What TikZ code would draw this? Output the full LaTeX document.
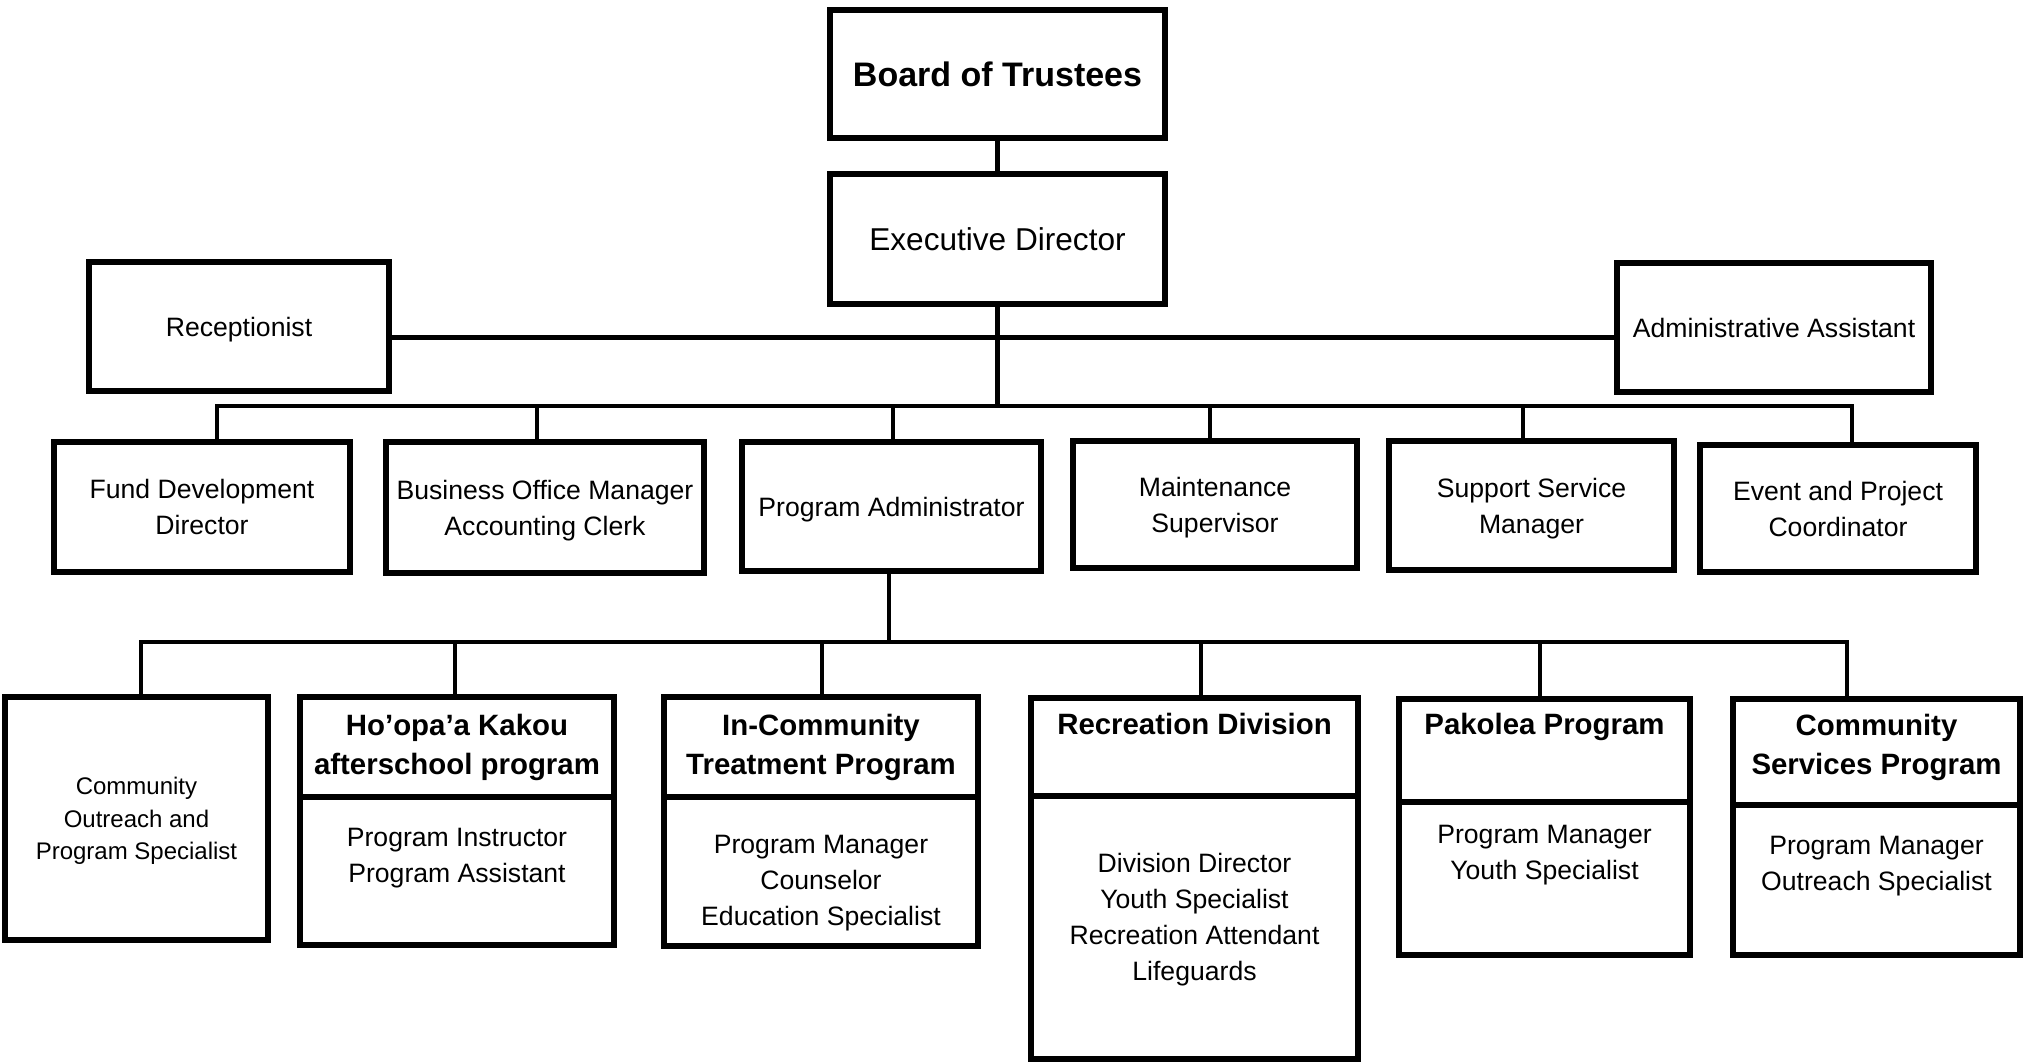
\documentclass[tikz,border=0pt]{standalone}
\usepackage{fontspec}
\setmainfont{Liberation Sans}
\newcommand\myfs[2]{\fontsize{#1}{#2}\selectfont}
\begin{document}
\begin{tikzpicture}[x=0.5pt,y=-0.5pt,
  box/.style={draw, line width=2.7pt, inner sep=0pt, outer sep=0pt, align=center, text depth=0pt},
  conn/.style={line width=2.4pt, line join=miter},
  reg/.style={font=\myfs{13.3}{18}},
  hdr/.style={font=\bfseries\myfs{14.7}{19.5}},
  txt/.style={inner sep=0pt, outer sep=0pt, align=center}]
\useasboundingbox (0,0) rectangle (2033,1063);

% top levels
\node[box, minimum width=167.5pt, minimum height=64pt, font=\bfseries\myfs{17}{20}] (board) at (997.5,74) {Board of Trustees};
\node[box, minimum width=167.5pt, minimum height=65pt, font=\myfs{15.8}{19}] (exec) at (997.5,239) {Executive Director};
\node[box, reg, minimum width=150pt, minimum height=64.5pt] (recep) at (239,326.5) {Receptionist};
\node[box, reg, minimum width=157pt, minimum height=64.5pt] (admin) at (1774,327.5) {Administrative Assistant};

% second row
\node[box, reg, minimum width=148pt, minimum height=65pt] (fund) at (202,507) {Fund Development\\Director};
\node[box, reg, minimum width=159pt, minimum height=65.5pt] (bus) at (545,507.5) {Business Office Manager\\Accounting Clerk};
\node[box, reg, minimum width=149.5pt, minimum height=64.5pt] (padm) at (891.5,506.5) {Program Administrator};
\node[box, reg, minimum width=142pt, minimum height=63.5pt] (maint) at (1215,504.5) {Maintenance\\Supervisor};
\node[box, reg, minimum width=142.5pt, minimum height=64.5pt] (supp) at (1531.5,505.5) {Support Service\\Manager};
\node[box, reg, minimum width=138pt, minimum height=63.5pt] (event) at (1838,508.5) {Event and Project\\Coordinator};

% third row
\node[box, font=\myfs{12}{16.3}, minimum width=131.5pt, minimum height=121.5pt] (cop) at (136.5,818.5) {Community\\Outreach and\\Program Specialist};

\node[box, minimum width=157pt, minimum height=50pt] (hooH) at (457,747) {};
\node[box, minimum width=157pt, minimum height=74pt] (hooB) at (457,871) {};
\node[box, minimum width=157pt, minimum height=50pt] (incH) at (821,747) {};
\node[box, minimum width=157pt, minimum height=74.5pt] (incB) at (821,871.5) {};
\node[box, minimum width=163.5pt, minimum height=49pt] (recH) at (1194.5,747) {};
\node[box, minimum width=163.5pt, minimum height=131.5pt] (recB) at (1194.5,927.5) {};
\node[box, minimum width=145.5pt, minimum height=51.5pt] (pakH) at (1544.5,750.5) {};
\node[box, minimum width=145.5pt, minimum height=76.5pt] (pakB) at (1544.5,878.5) {};
\node[box, minimum width=143.5pt, minimum height=53pt] (cspH) at (1876.5,752) {};
\node[box, minimum width=143.5pt, minimum height=75pt] (cspB) at (1876.5,880) {};

% headers
\node[txt, hdr] (hooT) at (457,747) {Ho’opa’a Kakou\\afterschool program};
\node[txt, hdr] (incT) at (821,747) {In-Community\\Treatment Program};
\node[txt, hdr, anchor=base] (recT) at (1194.5,734.5) {Recreation Division};
\node[txt, hdr, anchor=base] (pakT) at (1544.5,734.5) {Pakolea Program};
\node[txt, hdr] (cspT) at (1876.5,747) {Community\\Services Program};

% bodies
\node[txt, reg] (hooBT) at (457,858) {Program Instructor\\Program Assistant};
\node[txt, reg] (incBT) at (821,883) {Program Manager\\Counselor\\Education Specialist};
\node[txt, reg] (recBT) at (1194.5,920) {Division Director\\Youth Specialist\\Recreation Attendant\\Lifeguards};
\node[txt, reg] (pakBT) at (1544.5,855) {Program Manager\\Youth Specialist};
\node[txt, reg] (cspBT) at (1876.5,866) {Program Manager\\Outreach Specialist};

% connector points
\coordinate (t1) at (997.5,406);
\coordinate (d1) at (217,406);
\coordinate (d2) at (537,406);
\coordinate (d3) at (893,406);
\coordinate (d4) at (1210,406);
\coordinate (d5) at (1523,406);
\coordinate (d6) at (1852,406);
\coordinate (e0) at (889,642);
\coordinate (e1) at (141,642);
\coordinate (e2) at (455,642);
\coordinate (e3) at (822,642);
\coordinate (e4) at (1201,642);
\coordinate (e5) at (1540,642);
\coordinate (e6) at (1847,642);

% connectors
\draw[conn] (board) -- (exec);
\draw[conn] (exec) -- (t1);
\draw[conn] ([yshift=-5.5pt]recep.east) -- ([yshift=-5.5pt]recep.east -| admin.west);
\draw[conn] (d1 |- fund.north) -- (d1) -- (d6) -- (d6 |- event.north);
\draw[conn] (d2) -- (d2 |- bus.north);
\draw[conn] (d3) -- (d3 |- padm.north);
\draw[conn] (d4) -- (d4 |- maint.north);
\draw[conn] (d5) -- (d5 |- supp.north);

\draw[conn] (padm.south -| e0) -- (e0);
\draw[conn] (e1 |- cop.north) -- (e1) -- (e6) -- (e6 |- cspH.north);
\draw[conn] (e2) -- (e2 |- hooH.north);
\draw[conn] (e3) -- (e3 |- incH.north);
\draw[conn] (e4) -- (e4 |- recH.north);
\draw[conn] (e5) -- (e5 |- pakH.north);
\end{tikzpicture}
\end{document}
